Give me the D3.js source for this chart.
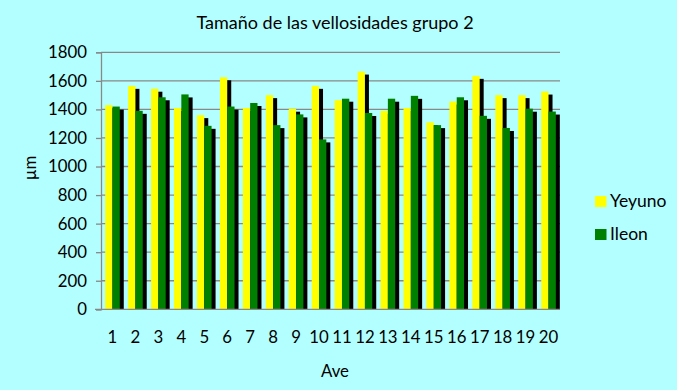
<!DOCTYPE html>
<html><head><meta charset="utf-8">
<script src="https://cdn.jsdelivr.net/npm/d3@7"></script>
<style>body{margin:0;background:#b3ffff;} svg{display:block;}</style>
</head><body>
<svg id="c" width="677" height="390"></svg>
<script>
const categories = ["1","2","3","4","5","6","7","8","9","10","11","12","13","14","15","16","17","18","19","20"];
const yeyuno = [1430,1565,1545,1410,1360,1625,1410,1500,1405,1565,1465,1665,1390,1410,1310,1455,1635,1500,1500,1525];
const ileon  = [1420,1390,1485,1505,1285,1420,1445,1290,1365,1190,1475,1375,1475,1495,1290,1485,1355,1270,1405,1385];
const yTicks = [0,200,400,600,800,1000,1200,1400,1600,1800];
const seriesNames = ["Yeyuno","Ileon"];
const colors = ["#ffff00","#008000"];

const svg = d3.select("#c");
const font = "Lato, 'Open Sans', sans-serif";
svg.append("rect").attr("width",677).attr("height",390).attr("fill","#b3ffff");

const m = {l:101, r:560, t:52.3, b:309.3};
const x = d3.scaleBand().domain(categories).range([m.l, m.r]).paddingInner(0).paddingOuter(0);
const y = d3.scaleLinear().domain([0,1800]).range([m.b, m.t]);

// gridlines
svg.append("g").selectAll("line").data(yTicks.filter(d=>d>0)).join("line")
  .attr("x1",m.l).attr("x2",m.r).attr("y1",d=>y(d)).attr("y2",d=>y(d))
  .attr("stroke","#888").attr("stroke-width",1.3);

// y axis
const yAxis = d3.axisLeft(y).tickValues(yTicks).tickSize(5).tickPadding(9).tickFormat(d3.format("d"));
const ga = svg.append("g").attr("transform",`translate(${m.l},0)`).call(yAxis);
ga.select(".domain").attr("stroke","#888").attr("stroke-width",1.3);
ga.selectAll(".tick line").attr("stroke","#888").attr("stroke-width",1.3);
ga.selectAll("text").attr("font-family",font).attr("font-size",16.8).attr("fill","#000");

const bw = 7.3, sdx = 4, sdy = 3;
const data = [yeyuno, ileon];
const xs = i => x.bandwidth()/2 - bw + i*bw;

categories.forEach((c,ci)=>{
  const g = svg.append("g");
  data.forEach((arr,si)=>{
    const x0 = x(c)+xs(si);
    g.append("rect").attr("x",x0+sdx).attr("y",y(arr[ci])+sdy).attr("width",bw).attr("height",m.b - y(arr[ci]) - sdy).attr("fill","#000");
    g.append("rect").attr("x",x0).attr("y",y(arr[ci])).attr("width",bw).attr("height",m.b - y(arr[ci])).attr("fill",colors[si]);
  });
});

// x axis
const xAxis = d3.axisBottom(x).tickSize(0).tickPadding(22);
const gx = svg.append("g").attr("transform",`translate(0,${m.b})`).call(xAxis);
gx.select(".domain").attr("stroke","#888").attr("stroke-width",1.3).attr("d",`M${m.l-6},0H${m.r}`);
gx.selectAll("text").attr("font-family",font).attr("font-size",16.8).attr("fill","#000");

// title
svg.append("text").attr("x",335).attr("y",28.5).attr("text-anchor","middle")
  .attr("font-family",font).attr("font-size",18).text("Tamaño de las vellosidades grupo 2");
// axis titles
svg.append("text").attr("x",335).attr("y",377).attr("text-anchor","middle")
  .attr("font-family",font).attr("font-size",16.8).text("Ave");
svg.append("text").attr("transform","translate(36,168) rotate(-90)").attr("text-anchor","middle")
  .attr("font-family",font).attr("font-size",16.8).text("µm");

// legend
const lg = svg.append("g").selectAll("g").data(seriesNames).join("g")
  .attr("transform",(d,i)=>`translate(595,${196+i*33})`);
lg.append("rect").attr("width",11.5).attr("height",11).attr("fill",(d,i)=>colors[i]);
lg.append("text").attr("x",15).attr("y",10.5).attr("font-family",font).attr("font-size",17.5).text(d=>d);
</script>
</body></html>
